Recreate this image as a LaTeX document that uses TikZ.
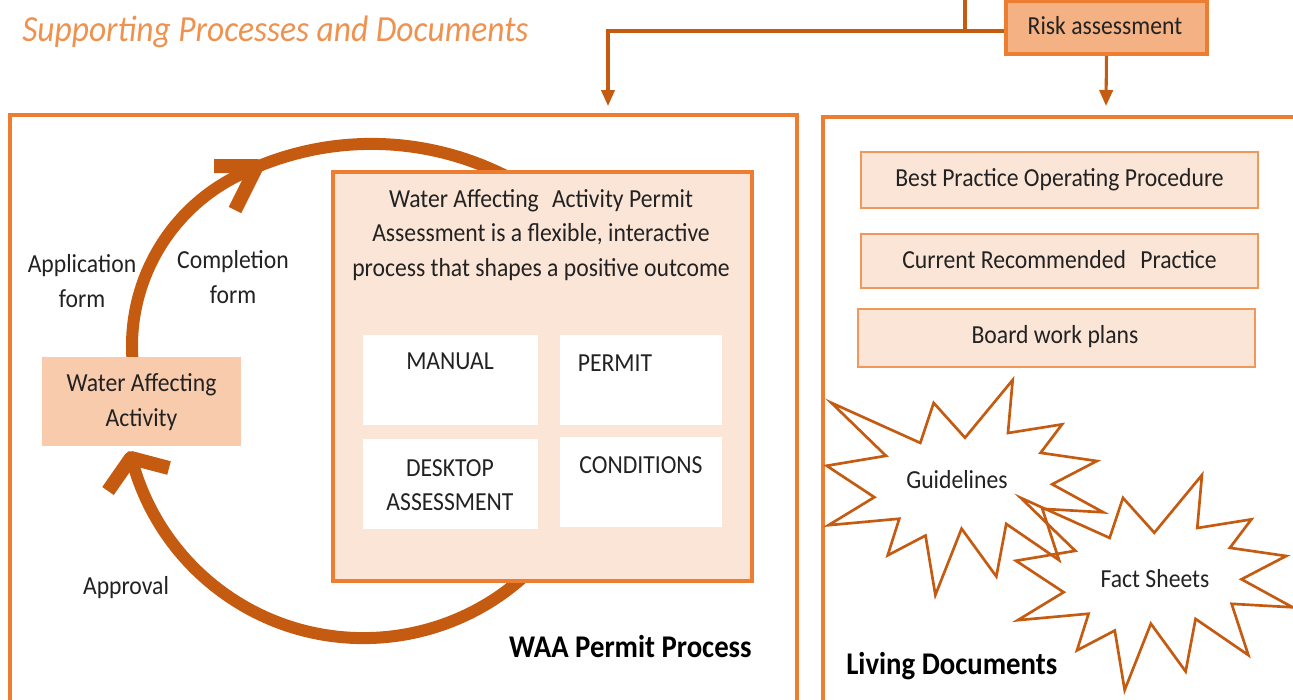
\documentclass[tikz,border=0pt]{standalone}
\usepackage{fontspec}
\setmainfont{Carlito}[FakeStretch=0.91]
\usetikzlibrary{arrows.meta}

\definecolor{frame}{HTML}{ED7D31}
\definecolor{rust}{HTML}{C55A11}
\definecolor{paleFill}{HTML}{FBE5D6}
\definecolor{peachFill}{HTML}{F8CBAD}
\definecolor{riskFill}{HTML}{F4B183}
\definecolor{softLine}{HTML}{F0975C}
\definecolor{titleInk}{HTML}{F0924F}
\definecolor{ink}{HTML}{222222}

\newcommand\mytxt{\fontsize{19.5}{25.9}\selectfont}
\newcommand\mybold{\fontsize{23.7}{28}\selectfont\bfseries}
\newcommand\mytitle{\fontsize{27.6}{32}\selectfont\itshape}

% irregular "explosion" outline, 216 x 216 units before scaling
\newcommand\burst{(108,58) -- (145.22,0) -- (141.55,53.25) -- (183.80,44.57) -- (167.02,73.15) -- (210.97,81.37) -- (176.07,104.75) -- (216,132.90) -- (168.37,129.42) -- (181.45,180.95) -- (140.20,144.57) -- (132.47,197.37) -- (105.32,149.35) -- (84.85,216) -- (77.15,156.27) -- (47.62,176.17) -- (56.67,139.37) -- (1.35,145.87) -- (37.22,117.75) -- (0,86.15) -- (46.27,76.17) -- (3.70,22.95) -- (73.12,63.20) -- (83.52,22.95) -- cycle}

\begin{document}
\begin{tikzpicture}[x=0.75pt,y=-0.75pt,
  every node/.style={text=ink, font=\mytxt, inner sep=0pt},
  bigframe/.style={draw=frame, line width=3pt},
  panel/.style={draw=frame, line width=3.4pt, fill=paleFill},
  whitecell/.style={fill=white},
  docbox/.style={draw=softLine, line width=1.5pt, fill=paleFill},
  link/.style={draw=rust, line width=2.3pt},
  tip/.style={-{Triangle[length=12pt,width=10pt]}},
  ringline/.style={draw=rust, line width=9pt},
  chevron/.style={draw=rust, line width=10.5pt, line join=round},
  starline/.style={draw=rust, line width=2pt, line join=miter},
  section/.style={font=\mybold, text=black},
  multi/.style={align=center}]

\clip (0,0) rectangle (1293,700);
\fill[white] (0,0) rectangle (1293,700);

% title
\node[anchor=base west, font=\mytitle, text=titleInk] (title) at (22,41) {Supporting Processes and Documents};

% outer frames (open at the bottom/right edge of the page)
\node[bigframe, minimum width=590.25pt, minimum height=453.75pt] (waaframe) at (403.5,417.5) {};
\node[bigframe, minimum width=380.25pt, minimum height=452.25pt] (livframe) at (1076.5,418.5) {};

% risk assessment and its connectors
\node[draw=frame, line width=3pt, fill=riskFill, minimum width=150.75pt, minimum height=39.75pt] (risk) at (1106.5,27.5) {};
\node (risktxt) at (1105,26) {Risk assessment};
\coordinate (feed) at (965,-5);
\coordinate (joint) at (965,31);
\coordinate (waaIn) at (608,106);
\coordinate (livIn) at (1106,106);
\draw[link] (feed) -- (joint);
\draw[link, tip] (risk.west |- joint) -| (waaIn);
\draw[link, tip] (risk.south) -- (livIn);

% permit cycle: upper return arc and lower approval arc
\draw[ringline] (322,346) ++(172:190) arc[start angle=172, end angle=242.5, radius=190]
  arc[start angle=242.5, end angle=300, radius=297.2];
\draw[ringline] (363.5,398.6) ++(40:239.5) arc[start angle=40, end angle=165, radius=239.5];
\draw[chevron] (214,166) -- (257,166) -- (235,210);
\draw[chevron] (108,491) -- (131,458) -- (169,468);

\node[fill=peachFill, minimum width=149.25pt, minimum height=66.75pt] (activity) at (141.5,401.5) {};
\node[multi] (activitytxt) at (141.5,402) {Water Affecting\\Activity};

\node[multi] (appform) at (82,281) {Application\\form};
\node[multi] (compform) at (233,277) {Completion\\form};
\node (approval) at (126,588) {Approval};

% assessment panel
\node[panel, minimum width=314.25pt, minimum height=306.75pt] (assess) at (542.5,376.5) {};
\node[multi] (assesstxt) at (541,235) {Water Affecting\hspace{0.3em} Activity Permit\\Assessment is a flexible, interactive\\process that shapes a positive outcome};
\node[whitecell, minimum width=131.25pt, minimum height=67.5pt] (manual) at (450.5,380) {};
\node[whitecell, minimum width=121.5pt, minimum height=67.5pt] (permit) at (641,380) {};
\node[whitecell, minimum width=131.25pt, minimum height=67.5pt] (desktop) at (450.5,484) {};
\node[whitecell, minimum width=121.5pt, minimum height=67.5pt] (conditions) at (641,482) {};
\node (manualtxt) at (450,361) {MANUAL};
\node (permittxt) at (615,363) {PERMIT};
\node[multi] (desktoptxt) at (450,485) {DESKTOP\\ASSESSMENT};
\node (conditionstxt) at (641,465) {CONDITIONS};

\node[section, anchor=east] (waalabel) at (752,647) {WAA Permit Process};

% living documents
\node[docbox, minimum width=297.75pt, minimum height=42pt] (bpop) at (1059.5,180) {};
\node (bpoptxt) at (1059.5,180) {Best Practice Operating Procedure};
\node[docbox, minimum width=297.75pt, minimum height=40.5pt] (crp) at (1059.5,261) {};
\node (crptxt) at (1059.5,260) {Current Recommended\hspace{0.35em} Practice};
\node[docbox, minimum width=297.75pt, minimum height=43.5pt] (bwp) at (1056.5,338) {};
\node (bwptxt) at (1055,337) {Board work plans};

\begin{scope}[shift={(826.7,380)}, xscale=1.2806, yscale=0.9954]
  \draw[starline] \burst;
\end{scope}
\begin{scope}[shift={(1016,475)}, xscale=1.2806, yscale=0.9954]
  \draw[starline] \burst;
\end{scope}
\node (guide) at (957,480) {Guidelines};
\node (facts) at (1155,579) {Fact Sheets};

\node[section, anchor=west] (livlabel) at (846,666) {Living Documents};
\end{tikzpicture}
\end{document}
